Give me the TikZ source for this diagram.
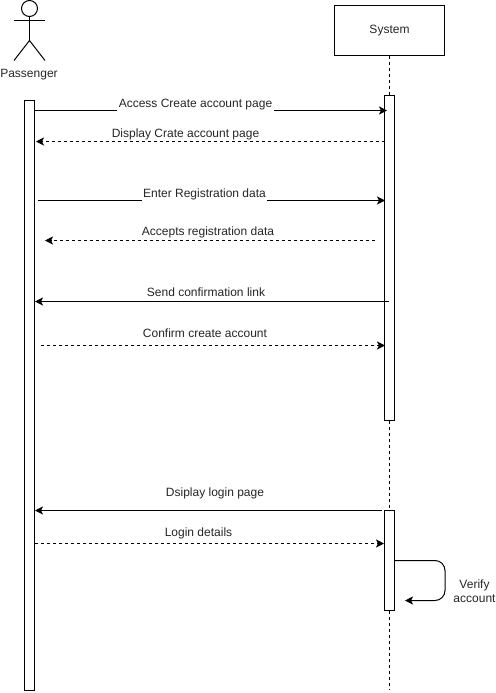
\documentclass[tikz,border=0pt]{standalone}
\usepackage{fontspec}
\setmainfont{Liberation Sans}
\usetikzlibrary{arrows.meta}
\tikzset{
  x=0.75pt,y=-0.75pt,
  every node/.style={font=\fontsize{9pt}{10.5pt}\selectfont,text=black!85},
  ln/.style={line width=0.75pt,draw=black},
  bar/.style={ln,fill=white,rectangle,inner sep=0pt,outer sep=0pt,minimum width=7.5pt,anchor=north west},
  head/.style={-{Stealth[length=6pt,width=6pt,inset=1.5pt]}},
  msg/.style={ln,head},
  ret/.style={ln,head,dash pattern=on 2.25pt off 2.25pt},
  life/.style={ln,dash pattern=on 2.25pt off 2.25pt},
  lab/.style={fill=white,inner xsep=1pt,inner ysep=1pt,anchor=center},
  labbreak/.style={fill=white,inner xsep=1pt,inner ysep=3pt,anchor=center},
}
\begin{document}
\begin{tikzpicture}
\useasboundingbox[fill=white] (0,0) rectangle (496,693);
% system head
\node[ln,fill=white,rectangle,inner sep=0pt,outer sep=0pt,minimum width=82.5pt,minimum height=37.5pt,anchor=north west] (sys) at (334.5,5.5) {System};
% activations
\node[bar,minimum height=442.5pt] (pa) at (24.5,100.5) {};
\node[bar,minimum height=243.75pt] (s1) at (384.5,95.5) {};
\node[bar,minimum height=75pt] (s2) at (384.5,510.5) {};
\coordinate (lifeend) at (389.5,690);
% lifeline
\draw[life] (sys.south) -- (s1.north);
\draw[life] (s1.south) -- (s2.north);
\draw[life] (s2.south) -- (lifeend);
% actor
\node[ln,circle,inner sep=0pt,outer sep=0pt,minimum size=12pt] (ahead) at (29.5,8.5) {};
\coordinate (ahip) at (29.5,40.5);
\coordinate (aarmL) at (14,20.5);
\coordinate (aarmR) at (45,20.5);
\coordinate (alegL) at (14,60.5);
\coordinate (alegR) at (45,60.5);
\draw[ln] (ahead.south) -- (ahip);
\draw[ln] (aarmL) -- (aarmR);
\draw[ln] (alegL) -- (ahip) -- (alegR);
\node (pname) at (29,74.5) {Passenger};
% message ends
\coordinate (m1a) at (34.5,110.5); \coordinate (m1b) at (387,110.5);
\coordinate (m2a) at (385,141.5); \coordinate (m2b) at (36,141.5);
\coordinate (m3a) at (38,200.5); \coordinate (m3b) at (385,200.5);
\coordinate (m4a) at (375,240.5); \coordinate (m4b) at (45,240.5);
\coordinate (m5a) at (389,301.5); \coordinate (m5b) at (35,301.5);
\coordinate (m6a) at (41,345.5); \coordinate (m6b) at (385,345.5);
\coordinate (m7a) at (382,510.5); \coordinate (m7b) at (35,510.5);
\coordinate (m8a) at (35,543.5); \coordinate (m8b) at (384,543.5);
\coordinate (m9a) at (394.5,560.5); \coordinate (m9c) at (445,560.5);
\coordinate (m9d) at (445,600.5); \coordinate (m9b) at (405,600.5);
\draw[msg] (m1a) -- (m1b);
\draw[ret] (m2a) -- (m2b);
\draw[msg] (m3a) -- (m3b);
\draw[ret] (m4a) -- (m4b);
\draw[msg] (m5a) -- (m5b);
\draw[ret] (m6a) -- (m6b);
\draw[msg] (m7a) -- (m7b);
\draw[ret] (m8a) -- (m8b);
\draw[msg,rounded corners=7.5pt] (m9a) -- (m9c) -- (m9d) -- (m9b);
% labels
\node[labbreak] (l1) at (195.5,105) {Access Create account page};
\node[lab] (l2) at (185.5,134.5) {Display Crate account page};
\node[labbreak] (l3) at (204.5,194.5) {Enter Registration data};
\node[lab] (l4) at (208,232.5) {Accepts registration data};
\node[lab] (l5) at (206,292.5) {Send confirmation link};
\node[lab] (l6) at (205,333.5) {Confirm create account};
\node[lab] (l7) at (215,493) {Dsiplay login page};
\node[lab] (l8) at (198.5,533) {Login details};
\node[align=center,inner sep=0pt] (l9) at (474.5,591.5) {Verify\\account};
\end{tikzpicture}
\end{document}
